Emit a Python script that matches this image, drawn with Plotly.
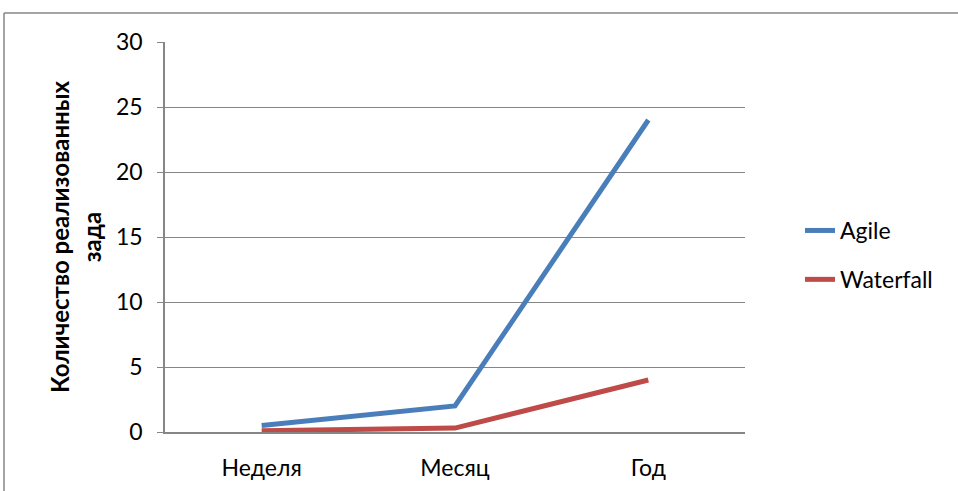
import plotly.graph_objects as go

# Categories and series values
periods = ["Неделя", "Месяц", "Год"]
agile = [0.5, 2, 24]
waterfall = [0.1, 0.3, 4]
y_ticks = [0, 5, 10, 15, 20, 25, 30]

W, H = 958, 491
L, R, T, B = 165, 213, 42, 59
pw = W - L - R
ph = H - T - B

font_family = "Lato, 'Open Sans', sans-serif"

fig = go.Figure()
fig.add_trace(go.Scatter(x=periods, y=agile, mode="lines", name="Agile",
                         legendgroup="a",
                         line=dict(color="#4A7EBB", width=5)))
fig.add_trace(go.Scatter(x=periods, y=waterfall, mode="lines", name="Waterfall",
                         legendgroup="w",
                         line=dict(color="#BE4B48", width=5)))

# outer chart frame (top and left edges visible)
def px_x(x):
    return (x - L) / pw

def px_y(y):
    return (H - B - y) / ph

fig.add_shape(type="line", xref="paper", yref="paper",
              x0=px_x(4), x1=px_x(960), y0=px_y(13), y1=px_y(13),
              line=dict(color="#868686", width=1.5))
fig.add_shape(type="line", xref="paper", yref="paper",
              x0=px_x(4), x1=px_x(4), y0=px_y(13), y1=px_y(495),
              line=dict(color="#868686", width=1.5))

fig.update_layout(
    width=W, height=H,
    margin=dict(l=L, r=R, t=T, b=B, autoexpand=False),
    paper_bgcolor="white", plot_bgcolor="white",
    font=dict(family=font_family, size=23, color="black"),
    showlegend=True,
    legend=dict(x=px_x(800), y=px_y(255), xanchor="left", yanchor="middle",
                font=dict(size=23), tracegroupgap=16,
                bgcolor="rgba(0,0,0,0)"),
    xaxis=dict(type="category", range=[-0.5, 2.5], showgrid=False,
               showline=True, linecolor="#868686", linewidth=1.5,
               ticks="", ticklabelstandoff=15, tickfont=dict(size=23),
               automargin=False),
    yaxis=dict(range=[0, 30], tickvals=y_ticks, showgrid=True,
               gridcolor="#868686", gridwidth=1.2, zeroline=False,
               showline=True, linecolor="#868686", linewidth=1.5,
               ticks="outside", ticklen=6, tickcolor="#868686",
               ticklabelstandoff=10, tickfont=dict(size=23),
               automargin=False,
               title=dict(text="<b>Количество реализованных<br>зада</b>",
                          font=dict(size=24), standoff=8)),
)

fig.write_html("out.html")
